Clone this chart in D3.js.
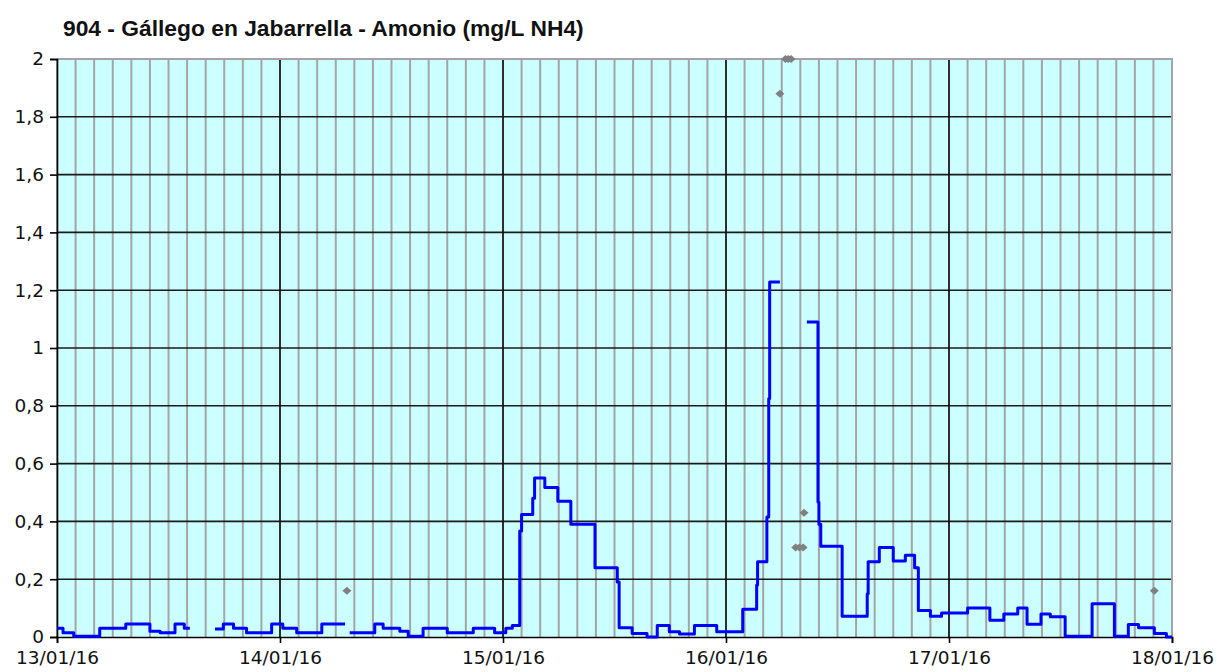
<!DOCTYPE html>
<html>
<head>
<meta charset="utf-8">
<script src="https://cdn.jsdelivr.net/npm/d3@7/dist/d3.min.js"></script>
<style>
body { margin: 0; background: #fff; }
</style>
</head>
<body>
<div id="chart"></div>
<script>
// hours since 13/01/16 00:00 where each step of the blue line starts (null value = gap)
var hours = [0, 0.65, 1.8, 4.6, 7.4, 10.0, 11.1, 12.7, 13.7, 14.3, 14.3,
    17.0, 17.9, 19.0, 20.4, 23.1, 24.3, 25.8, 28.5, 31.0, 31.0,
    31.5, 34.2, 35.1, 36.9, 37.8, 39.4, 42.0, 44.8, 47.1, 48.3, 49.0, 49.8, 50.0, 51.2, 51.4, 52.5, 53.9, 55.3, 57.9, 60.3, 60.5, 61.9, 63.5, 64.6, 65.9, 67.0, 68.6, 71.0, 73.8, 75.3, 75.4, 76.4, 76.6, 76.7, 77.8, 77.8,
    80.7, 81.9, 82.0, 82.2, 84.5, 87.2, 87.3, 88.5, 90.0, 91.3, 92.3, 92.7, 94.0, 95.2, 98.0, 100.4, 101.9, 103.4, 104.4, 105.9, 106.9, 108.5, 111.4, 113.8, 115.3, 116.4, 118.1, 119.4, 120];
var ammonia = [0.03, 0.015, 0.003, 0.03, 0.045, 0.02, 0.015, 0.045, 0.03, 0.03, null,
    0.028, 0.045, 0.03, 0.015, 0.045, 0.03, 0.015, 0.045, 0.045, null,
    0.015, 0.045, 0.03, 0.02, 0.003, 0.03, 0.015, 0.03, 0.015, 0.03, 0.04, 0.367, 0.424, 0.48, 0.55, 0.517, 0.47, 0.39, 0.24, 0.19, 0.032, 0.012, 0.0, 0.04, 0.018, 0.01, 0.04, 0.018, 0.096, 0.18, 0.26, 0.415, 0.825, 1.228, 1.228, null,
    1.09, 0.467, 0.39, 0.314, 0.072, 0.15, 0.26, 0.31, 0.263, 0.283, 0.24, 0.092, 0.072, 0.083, 0.1, 0.058, 0.08, 0.1, 0.044, 0.08, 0.07, 0.003, 0.115, 0.003, 0.043, 0.032, 0.012, 0.0, 0.0];

// grey diamonds (second series)
var dotHours = [31.2, 77.8, 78.4, 78.7, 79.0, 79.5, 79.9, 80.3, 80.4, 118.1];
var dotValues = [0.16, 1.88, 2, 2, 2, 0.31, 0.31, 0.31, 0.43, 0.16];

var yTicks = [0, 0.2, 0.4, 0.6, 0.8, 1, 1.2, 1.4, 1.6, 1.8, 2];
var title = "904 - Gállego en Jabarrella - Amonio (mg/L NH4)";

var W = 1217, H = 672;
var margin = {top: 59, right: 45, bottom: 35, left: 57};
var start = new Date(2016, 0, 13), end = new Date(2016, 0, 18);

function toDate(h) { return new Date(start.getTime() + h * 3600e3); }

var svg = d3.select("#chart").append("svg")
    .attr("width", W)
    .attr("height", H);

var x = d3.scaleTime().domain([start, end]).range([margin.left, W - margin.right]);
var y = d3.scaleLinear().domain([0, 2]).range([H - margin.bottom, margin.top]);
var x0 = x.range()[0], x1 = x.range()[1], y0 = y(0), y1 = y(2);

// plot background
svg.append("rect")
    .attr("x", x0).attr("y", y1)
    .attr("width", x1 - x0).attr("height", y0 - y1)
    .attr("fill", "#ccffff");

// minor vertical grid every 2 hours
svg.append("g").selectAll("line")
    .data(d3.timeHour.every(2).range(start, end))
    .join("line")
    .attr("x1", function(d) { return x(d); })
    .attr("x2", function(d) { return x(d); })
    .attr("y1", y1).attr("y2", y0)
    .attr("stroke", "#a4a4a4")
    .attr("stroke-width", 2);

// horizontal grid
svg.append("g").selectAll("line")
    .data(yTicks.slice(1, -1))
    .join("line")
    .attr("x1", x0).attr("x2", x1)
    .attr("y1", function(d) { return y(d); })
    .attr("y2", function(d) { return y(d); })
    .attr("stroke", "#1a1a1a")
    .attr("stroke-width", 1.6);

// day lines
svg.append("g").selectAll("line")
    .data(d3.timeDay.range(start, end).slice(1))
    .join("line")
    .attr("x1", function(d) { return x(d); })
    .attr("x2", function(d) { return x(d); })
    .attr("y1", y1).attr("y2", y0)
    .attr("stroke", "#111")
    .attr("stroke-width", 1.6);

// top and right border
svg.append("path")
    .attr("d", "M" + x0 + "," + y1 + "H" + x1 + "V" + y0)
    .attr("fill", "none")
    .attr("stroke", "#a4a4a4")
    .attr("stroke-width", 2);

// y axis
svg.append("g")
    .attr("transform", "translate(" + x0 + ",0)")
    .call(d3.axisLeft(y).tickValues(yTicks).tickSize(7).tickPadding(6)
        .tickFormat(function(d) { return String(d).replace(".", ","); }));

// x axis
svg.append("g")
    .attr("transform", "translate(0," + y0 + ")")
    .call(d3.axisBottom(x).ticks(d3.timeDay.every(1)).tickSize(6).tickPadding(8)
        .tickFormat(d3.timeFormat("%d/%m/%y")));

svg.selectAll(".domain").attr("stroke", "#000").attr("stroke-width", 1.6);
svg.selectAll(".tick line").attr("stroke", "#000").attr("stroke-width", 1.6);
svg.selectAll(".tick text")
    .attr("fill", "#111")
    .style("font-family", "'DejaVu Sans', Verdana, sans-serif")
    .style("font-size", "18.5px");

// ammonia line
var rows = hours.map(function(h, i) { return {t: toDate(h), v: ammonia[i]}; });
var line = d3.line()
    .defined(function(d) { return d.v !== null; })
    .x(function(d) { return x(d.t); })
    .y(function(d) { return y(d.v); })
    .curve(d3.curveStepAfter);

svg.append("path")
    .datum(rows)
    .attr("d", line)
    .attr("fill", "none")
    .attr("stroke", "#0000ff")
    .attr("stroke-width", 3)
    .attr("stroke-linejoin", "round");

// grey diamonds
svg.append("g").selectAll("path")
    .data(dotHours.map(function(h, i) { return {t: toDate(h), v: dotValues[i]}; }))
    .join("path")
    .attr("transform", function(d) { return "translate(" + x(d.t) + "," + y(d.v) + ")"; })
    .attr("d", "M-4.5,0L0,-4L4.5,0L0,4Z")
    .attr("fill", "#808080");

// title
svg.append("text")
    .attr("x", 63)
    .attr("y", 36)
    .style("font-family", "'Liberation Sans', Arial, sans-serif")
    .style("font-weight", "bold")
    .style("font-size", "22.8px")
    .attr("fill", "#111")
    .text(title);
</script>
</body>
</html>
